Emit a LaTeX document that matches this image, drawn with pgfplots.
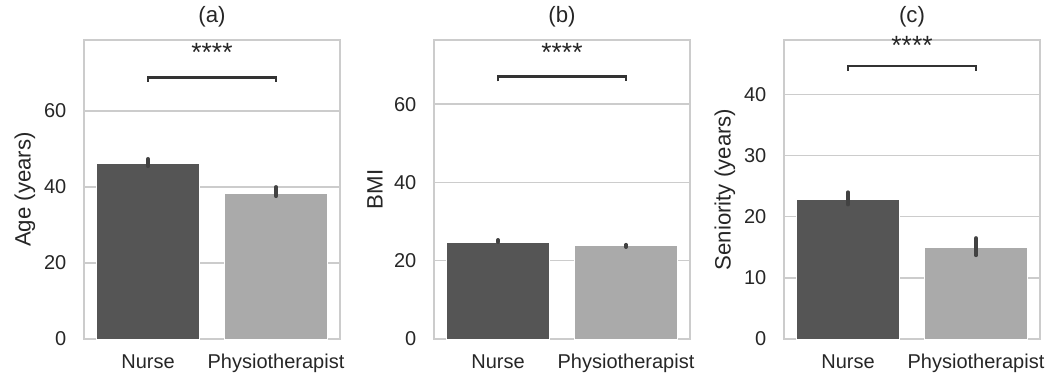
\documentclass[border=0pt]{standalone}
\usepackage{pgfplots}
\pgfplotsset{compat=1.18}
\usepackage{fontspec}
\setmainfont{Liberation Sans}
\definecolor{txt}{HTML}{262626}
\definecolor{gridc}{HTML}{CCCCCC}
\definecolor{darkbar}{HTML}{555555}
\definecolor{lightbar}{HTML}{AAAAAA}
\definecolor{errc}{HTML}{424242}
\definecolor{brk}{HTML}{333333}
\tikzset{stars/.style={font=\fontsize{19}{22}\selectfont, text=txt, inner sep=0pt}}
\pgfplotsset{
  panel/.style={
    scale only axis, width=184.32pt, height=215.28pt,
    anchor=south west, clip=false,
    xmin=-0.5, xmax=1.5, ymin=0,
    xtick={0,1}, xticklabels={Nurse,Physiotherapist},
    major tick length=0pt,
    /pgf/number format/assume math mode=true,
    ymajorgrids, grid style={gridc, line width=1pt},
    axis line style={gridc, line width=1.25pt},
    tick label style={font=\fontsize{14.4}{17}\selectfont, text=txt},
    xticklabel style={anchor=base, yshift=-21.4pt, inner sep=0pt},
    yticklabel style={anchor=east, xshift=-12.5pt, inner sep=0pt},
    ylabel style={at={(axis description cs:-0.2306,0.5)}, anchor=center, font=\fontsize{16}{19}\selectfont, text=txt},
    title style={at={(axis description cs:0.5,1)}, anchor=base, yshift=6.5pt, inner sep=0pt, font=\fontsize{16}{19}\selectfont, text=txt},
  },
  barA/.style={ybar, bar width=0.8, bar shift=0pt, fill=darkbar, draw=white, line width=0.6pt},
  barB/.style={ybar, bar width=0.8, bar shift=0pt, fill=lightbar, draw=white, line width=0.6pt},
  err/.style={errc, line width=2.8pt, line cap=round, mark=none},
  brack/.style={brk, line width=2pt, mark=none},
}
\begin{document}
\begin{tikzpicture}
% (a)
\begin{axis}[panel, at={(60.48pt,24.48pt)}, ymax=78.7, ytick={0,20,40,60},
  ylabel={Age (years)}, title={(a)}]
\addplot[barA] coordinates {(0,46.3)};
\addplot[barB] coordinates {(1,38.4)};
\addplot[err] coordinates {(0,45.5) (0,47.4)};
\addplot[err] coordinates {(1,37.6) (1,40.0)};
\addplot[brack] coordinates {(0,67.7) (0,68.9) (1,68.9) (1,67.7)};
\node[stars] at (axis cs:0.5,75.4) {****};
\end{axis}
% (b)
\begin{axis}[panel, at={(312.48pt,24.48pt)}, ymax=76.4, ytick={0,20,40,60},
  ylabel={BMI}, title={(b)}]
\addplot[barA] coordinates {(0,24.8)};
\addplot[barB] coordinates {(1,23.8)};
\addplot[err] coordinates {(0,24.8) (0,25.3)};
\addplot[err] coordinates {(1,23.5) (1,24.07)};
\addplot[brack] coordinates {(0,65.85) (0,67.0) (1,67.0) (1,65.85)};
\node[stars] at (axis cs:0.5,73.3) {****};
\end{axis}
% (c)
\begin{axis}[panel, at={(564.48pt,24.48pt)}, ymax=48.9, ytick={0,10,20,30,40},
  ylabel={Seniority (years)}, title={(c)}]
\addplot[barA] coordinates {(0,22.9)};
\addplot[barB] coordinates {(1,14.9)};
\addplot[err] coordinates {(0,22.0) (0,24.0)};
\addplot[err] coordinates {(1,13.7) (1,16.5)};
\addplot[brack] coordinates {(0,43.9) (0,44.65) (1,44.65) (1,43.9)};
\node[stars] at (axis cs:0.5,48.0) {****};
\end{axis}
\pgfresetboundingbox
\path[use as bounding box] (0,0) rectangle (765.36pt,268.56pt);
\end{tikzpicture}
\end{document}
